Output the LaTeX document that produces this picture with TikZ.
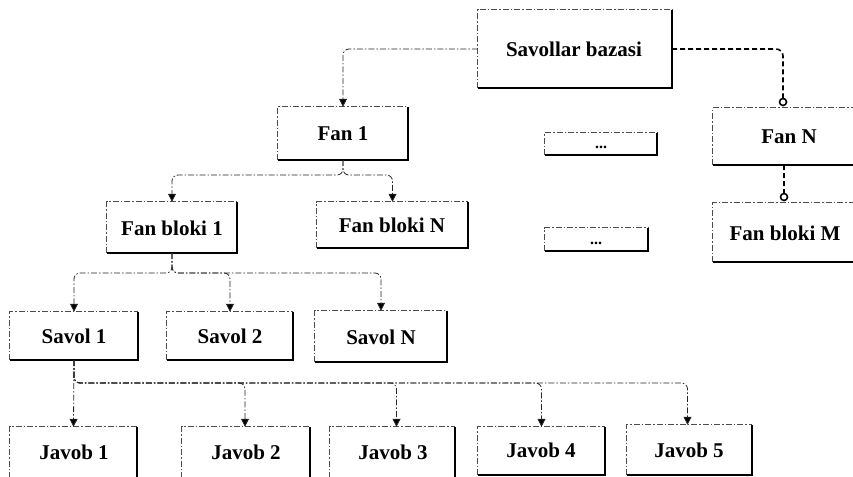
\documentclass[tikz,border=0pt]{standalone}
\usepackage{fontspec}
\setmainfont{Liberation Serif}
\usetikzlibrary{arrows.meta}

% edge styles of the boxes: light dash-dot top/left, heavy solid bottom/right
\tikzset{
  lbl/.style={font=\fontsize{21}{24}\selectfont\bfseries, inner sep=0pt, anchor=center},
  dots/.style={font=\fontsize{16}{18}\selectfont\bfseries, inner sep=0pt, anchor=center},
  edgelight/.style={draw=black!70, line width=0.7pt, dash pattern=on 6pt off 2pt on 1.5pt off 2pt},
  edgeheavy/.style={draw=black, line width=1.5pt},
  conn/.style={draw=black!85, line width=0.8pt, dash pattern=on 6pt off 2pt on 1.5pt off 2pt,
    rounded corners=6pt, -{Triangle[width=8pt,length=8pt,fill=black]}},
  link/.style={draw=black, line width=1.6pt, dash pattern=on 5pt off 3pt, rounded corners=7pt},
  ring/.style={draw=black, line width=1.6pt, fill=white},
}

% a box given by its corners: x1, y1, x2, y2 (y grows downwards)
\newcommand{\cardbox}[5]{%
  \node[minimum width=#4pt-#2pt, minimum height=#5pt-#3pt, inner sep=0pt]
    (#1) at ({(#2+#4)/2},{(#3+#5)/2}) {};
  \draw[edgelight] (#1.south west) -- (#1.north west) -- (#1.north east);
  \draw[edgeheavy] (#1.north east) -- (#1.south east) -- (#1.south west);
}

\begin{document}
\begin{tikzpicture}[x=1pt,y=-1pt]
\useasboundingbox (0,0) rectangle (853,476);

% boxes
\cardbox{sb}{478}{10}{672}{88}
\cardbox{fanA}{278}{107}{408}{160}
\cardbox{fanN}{713}{108}{867}{165}
\cardbox{fbM}{713}{203}{860}{262}
\cardbox{dA}{545}{133}{657}{155}
\cardbox{dB}{545}{228}{648}{251}
\cardbox{fbA}{107}{202}{237}{253}
\cardbox{fbN}{317}{202}{468}{248}
\cardbox{sA}{10}{312}{138}{360}
\cardbox{sB}{167}{312}{293}{360}
\cardbox{sN}{315}{311}{447}{362}
\cardbox{jA}{10}{427}{137}{478}
\cardbox{jB}{182}{427}{310}{478}
\cardbox{jC}{330}{427}{455}{478}
\cardbox{jD}{478}{427}{605}{475}
\cardbox{jE}{627}{425}{752}{475}

% labels
\node[lbl] (tsb) at (574,49) {Savollar bazasi};
\node[lbl] (tfanA) at (343,134) {Fan 1};
\node[lbl] (tfanN) at (789,137) {Fan N};
\node[lbl] (tfbM) at (785,233) {Fan bloki M};
\node[dots] (tdA) at (601,147) {...};
\node[dots] (tdB) at (596,243) {...};
\node[lbl] (tfbA) at (172,228) {Fan bloki 1};
\node[lbl] (tfbN) at (392,225) {Fan bloki N};
\node[lbl] (tsA) at (74,336) {Savol 1};
\node[lbl] (tsB) at (230,336) {Savol 2};
\node[lbl] (tsN) at (381,337) {Savol N};
\node[lbl] (tjA) at (74,452) {Javob 1};
\node[lbl] (tjB) at (246,452) {Javob 2};
\node[lbl] (tjC) at (393,452) {Javob 3};
\node[lbl] (tjD) at (541,450) {Javob 4};
\node[lbl] (tjE) at (689,450) {Javob 5};

% branch levels
\coordinate (busA) at (0,175);
\coordinate (busB) at (0,273);
\coordinate (busC) at (0,383);

% database to first subject
\draw[conn] (sb.west) -| (fanA.north);

% database to last subject, and on to its block
\coordinate (ringA) at (783,102);
\coordinate (ringB) at (784,197);
\draw[link] (sb.east) -| ([yshift=-4pt]ringA);
\draw[ring] (ringA) circle (3.5pt);
\draw[link] (fanN.south -| ringB) -- ([yshift=-4pt]ringB);
\draw[ring] (ringB) circle (3.5pt);

% subject to its blocks
\draw[conn] (fanA.south) |- (fbA.north |- busA) -- (fbA.north);
\draw[conn] (fanA.south) |- (fbN.north |- busA) -- (fbN.north);

% block to its questions
\draw[conn] (fbA.south) |- (sA.north |- busB) -- (sA.north);
\draw[conn] (fbA.south) |- (sB.north |- busB) -- (sB.north);
\draw[conn] (fbA.south) |- (sN.north |- busB) -- (sN.north);

% question to its answers
\draw[conn] (sA.south) -- (jA.north);
\draw[conn] (sA.south) |- ([xshift=-1pt]jB.north |- busC) -- ([xshift=-1pt]jB.north);
\draw[conn] (sA.south) |- ([xshift=4pt]jC.north |- busC) -- ([xshift=4pt]jC.north);
\draw[conn] (sA.south) |- (jD.north |- busC) -- (jD.north);
\draw[conn] (sA.south) |- ([xshift=-2pt]jE.north |- busC) -- ([xshift=-2pt]jE.north);
\end{tikzpicture}
\end{document}
